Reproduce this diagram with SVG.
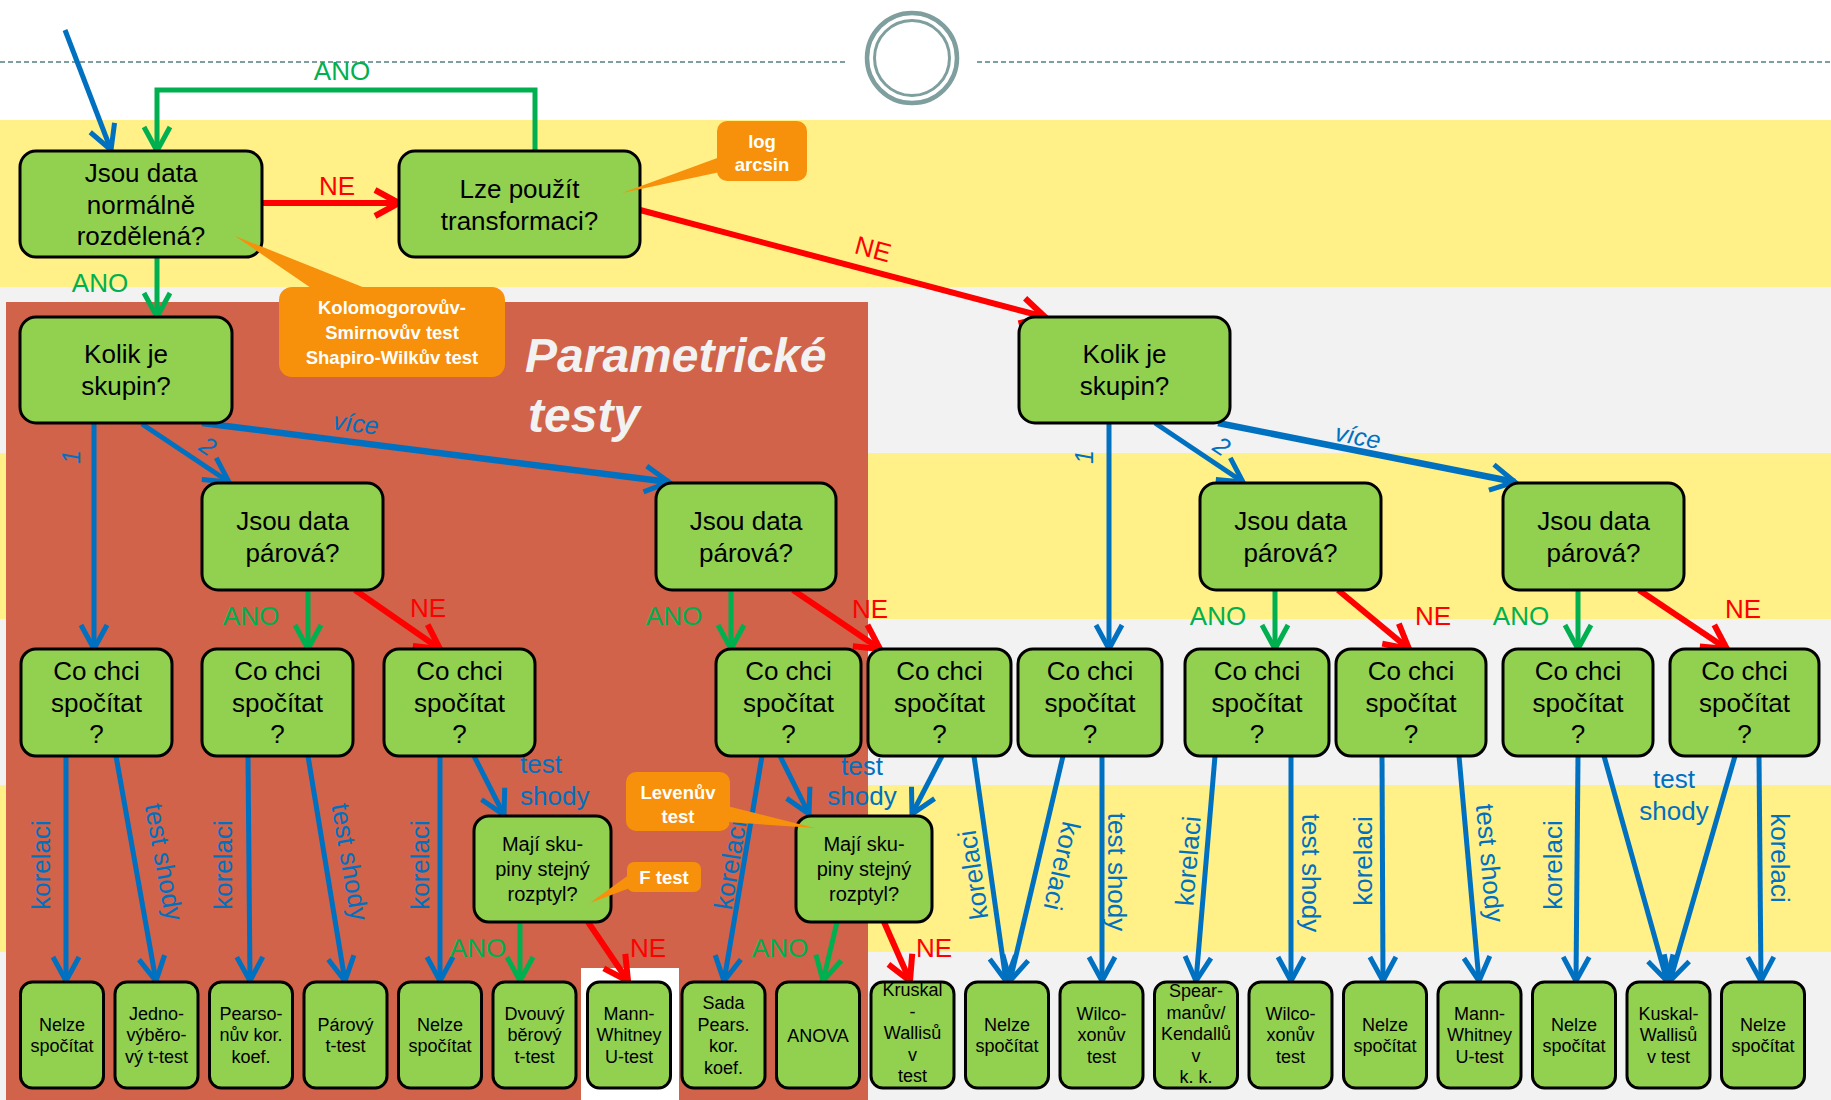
<svg xmlns="http://www.w3.org/2000/svg" width="1831" height="1100" viewBox="0 0 1831 1100">
<style>
text{font-family:"Liberation Sans",Arial,sans-serif}
.nd rect{fill:#92d050;stroke:#000;stroke-width:3}
.t26{font-size:26px;text-anchor:middle;fill:#000}
.t20{font-size:20px;text-anchor:middle;fill:#000}
.t18{font-size:18px;text-anchor:middle;fill:#000}
.cb{stroke:#0070c0;stroke-width:5;fill:none;marker-end:url(#ab)}
.cbt{stroke:#0070c0;stroke-width:6.5;fill:none;marker-end:url(#ab)}
.cg{stroke:#00b050;stroke-width:5;fill:none;marker-end:url(#ag)}
.cr{stroke:#ff0000;stroke-width:6;fill:none;marker-end:url(#ar)}
.lb{font-size:26px;fill:#0070c0;text-anchor:middle}
.lbi{font-size:25px;fill:#0070c0;text-anchor:middle;font-style:italic}
.lg{font-size:26px;fill:#00b050;text-anchor:middle}
.lr{font-size:26px;fill:#ff0000;text-anchor:middle}
.co{fill:#f7900a}
.ct{font-size:18.5px;font-weight:bold;fill:#fff;text-anchor:middle}
</style>
<defs>
<marker id="ab" viewBox="-30 -18 42 36" markerWidth="42" markerHeight="36" refX="0" refY="0" orient="auto" markerUnits="userSpaceOnUse"><path d="M-24,-13 L0,0 L-24,13" fill="none" stroke="#0070c0" stroke-width="5"/></marker>
<marker id="ag" viewBox="-30 -18 42 36" markerWidth="42" markerHeight="36" refX="0" refY="0" orient="auto" markerUnits="userSpaceOnUse"><path d="M-24,-13 L0,0 L-24,13" fill="none" stroke="#00b050" stroke-width="5"/></marker>
<marker id="ar" viewBox="-30 -18 42 36" markerWidth="42" markerHeight="36" refX="0" refY="0" orient="auto" markerUnits="userSpaceOnUse"><path d="M-24,-13 L0,0 L-24,13" fill="none" stroke="#ff0000" stroke-width="6"/></marker>
</defs>
<g id="background">
<rect x="0" y="0" width="1831" height="1100" fill="#ffffff"/>
<rect x="0" y="120" width="1831" height="167" fill="#fff087"/>
<rect x="0" y="287" width="1831" height="166" fill="#f2f2f2"/>
<rect x="0" y="453" width="1831" height="166" fill="#fff087"/>
<rect x="0" y="619" width="1831" height="166" fill="#f2f2f2"/>
<rect x="0" y="785" width="1831" height="167" fill="#fff087"/>
<rect x="0" y="952" width="1831" height="148" fill="#f2f2f2"/>
<line x1="0" y1="62" x2="848" y2="62" stroke="#7f9e9e" stroke-width="2" stroke-dasharray="5 3"/>
<line x1="977" y1="62" x2="1831" y2="62" stroke="#7f9e9e" stroke-width="2" stroke-dasharray="5 3"/>
<circle cx="912" cy="58" r="45" fill="none" stroke="#7f9e9e" stroke-width="4.5"/>
<circle cx="912" cy="58" r="37.5" fill="none" stroke="#7f9e9e" stroke-width="3"/>
<rect x="6" y="302" width="862" height="798" fill="#d06349"/>
<rect x="581" y="968" width="98" height="132" fill="#ffffff"/>
<text x="525" y="372" font-size="48" font-weight="bold" font-style="italic" fill="#f2f2f2">Parametrické</text>
<text x="528" y="432" font-size="48" font-weight="bold" font-style="italic" fill="#f2f2f2">testy</text>
</g>
<g id="connectors">
<line x1="65" y1="30" x2="111" y2="150" class="cb"/>
<path d="M535,151 V90 H157 V151" class="cg"/>
<line x1="262" y1="203" x2="399" y2="203" class="cr"/>
<line x1="640" y1="210" x2="1045" y2="317" class="cr"/>
<line x1="157" y1="257" x2="157" y2="317" class="cg"/>
<line x1="94" y1="423" x2="94" y2="649" class="cb"/>
<line x1="142" y1="424" x2="229" y2="482" class="cb"/>
<line x1="202" y1="423" x2="669" y2="482" class="cbt"/>
<line x1="1109" y1="423" x2="1109" y2="649" class="cb"/>
<line x1="1155" y1="423" x2="1243" y2="482" class="cb"/>
<line x1="1218" y1="423" x2="1515" y2="482" class="cbt"/>
<line x1="308" y1="590" x2="308" y2="649" class="cg"/>
<line x1="355" y1="590" x2="440" y2="649" class="cr"/>
<line x1="731" y1="590" x2="731" y2="649" class="cg"/>
<line x1="793" y1="590" x2="880" y2="649" class="cr"/>
<line x1="1275" y1="590" x2="1275" y2="649" class="cg"/>
<line x1="1338" y1="590" x2="1409" y2="649" class="cr"/>
<line x1="1578" y1="590" x2="1578" y2="649" class="cg"/>
<line x1="1639" y1="590" x2="1727" y2="649" class="cr"/>
<line x1="66" y1="756" x2="66" y2="981" class="cb"/>
<line x1="116" y1="756" x2="156" y2="981" class="cb"/>
<line x1="248" y1="756" x2="250" y2="981" class="cb"/>
<line x1="308" y1="756" x2="345" y2="981" class="cb"/>
<line x1="440" y1="756" x2="440" y2="981" class="cb"/>
<line x1="474" y1="756" x2="504" y2="815" class="cb"/>
<line x1="762" y1="756" x2="724" y2="981" class="cb"/>
<line x1="780" y1="756" x2="809" y2="814" class="cb"/>
<line x1="942" y1="756" x2="912" y2="814" class="cb"/>
<line x1="974" y1="756" x2="1006" y2="981" class="cb"/>
<line x1="1063" y1="756" x2="1010" y2="981" class="cb"/>
<line x1="1102" y1="756" x2="1102" y2="981" class="cb"/>
<line x1="1215" y1="756" x2="1196" y2="981" class="cb"/>
<line x1="1291" y1="756" x2="1291" y2="981" class="cb"/>
<line x1="1382" y1="756" x2="1383" y2="981" class="cb"/>
<line x1="1459" y1="756" x2="1479" y2="981" class="cb"/>
<line x1="1578" y1="756" x2="1576" y2="981" class="cb"/>
<line x1="1604" y1="756" x2="1667" y2="981" class="cb"/>
<line x1="1735" y1="756" x2="1670" y2="981" class="cb"/>
<line x1="1759" y1="756" x2="1761" y2="981" class="cb"/>
<line x1="520" y1="922" x2="520" y2="981" class="cg"/>
<line x1="588" y1="922" x2="628" y2="981" class="cr"/>
<line x1="837" y1="922" x2="823" y2="981" class="cg"/>
<line x1="884" y1="922" x2="910" y2="981" class="cr"/>
</g>
<g id="connector-labels">
<text x="342" y="80" class="lg">ANO</text>
<text x="337" y="195" class="lr">NE</text>
<text transform="translate(873,249) rotate(14.8)" y="9" class="lr">NE</text>
<text x="100" y="292" class="lg">ANO</text>
<text transform="translate(71,457) rotate(-90)" y="9" class="lbi">1</text>
<text transform="translate(208,446) rotate(34)" y="9" class="lbi">2</text>
<text transform="translate(356,423) rotate(7)" y="9" class="lbi">více</text>
<text transform="translate(1084,457) rotate(-90)" y="9" class="lbi">1</text>
<text transform="translate(1222,446) rotate(34)" y="9" class="lbi">2</text>
<text transform="translate(1358,436) rotate(11)" y="9" class="lbi">více</text>
<text x="251" y="625" class="lg">ANO</text>
<text x="428" y="617" class="lr">NE</text>
<text x="674" y="625" class="lg">ANO</text>
<text x="870" y="618" class="lr">NE</text>
<text x="1218" y="625" class="lg">ANO</text>
<text x="1433" y="625" class="lr">NE</text>
<text x="1521" y="625" class="lg">ANO</text>
<text x="1743" y="618" class="lr">NE</text>
<text transform="translate(41,865) rotate(-90)" y="9" class="lb">korelaci</text>
<text transform="translate(164,862) rotate(79.7)" y="9" class="lb">test shody</text>
<text transform="translate(223,865) rotate(-90)" y="9" class="lb">korelaci</text>
<text transform="translate(350,862) rotate(80.4)" y="9" class="lb">test shody</text>
<text transform="translate(420,865) rotate(-90)" y="9" class="lb">korelaci</text>
<text x="520" y="773" class="lb" text-anchor="start" style="text-anchor:start">test</text>
<text x="520" y="805" class="lb" style="text-anchor:start">shody</text>
<text transform="translate(730,865) rotate(-80.4)" y="9" class="lb">korelaci</text>
<text x="862" y="775" class="lb">test</text>
<text x="862" y="805" class="lb">shody</text>
<text transform="translate(973,875) rotate(-98.3)" y="9" class="lb">korelaci</text>
<text transform="translate(1062,866) rotate(102.5)" y="9" class="lb">korelaci</text>
<text transform="translate(1117,872) rotate(90)" y="9" class="lb">test shody</text>
<text transform="translate(1188,861) rotate(-85.2)" y="9" class="lb">korelaci</text>
<text transform="translate(1311,873) rotate(90)" y="9" class="lb">test shody</text>
<text transform="translate(1363,861) rotate(-90)" y="9" class="lb">korelaci</text>
<text transform="translate(1490,863) rotate(84.9)" y="9" class="lb">test shody</text>
<text transform="translate(1553,865) rotate(-90)" y="9" class="lb">korelaci</text>
<text x="1674" y="788" class="lb">test</text>
<text x="1674" y="820" class="lb">shody</text>
<text transform="translate(1780,858) rotate(90)" y="9" class="lb">korelaci</text>
<text x="478" y="957" class="lg">ANO</text>
<text x="648" y="957" class="lr">NE</text>
<text x="780" y="957" class="lg">ANO</text>
<text x="934" y="957" class="lr">NE</text>
</g>
<g id="n-normal" class="nd"><rect x="20" y="151" width="242" height="106" rx="16"/><text class="t26" x="141" y="182">Jsou data</text><text class="t26" x="141" y="213.5">normálně</text><text class="t26" x="141" y="245">rozdělená?</text></g>
<g id="n-transform" class="nd"><rect x="399" y="151" width="241" height="106" rx="16"/><text class="t26" x="519.5" y="198">Lze použít</text><text class="t26" x="519.5" y="229.5">transformaci?</text></g>
<g id="n-kolik-p" class="nd"><rect x="20" y="317" width="212" height="106" rx="16"/><text class="t26" x="126" y="363">Kolik je</text><text class="t26" x="126" y="394.5">skupin?</text></g>
<g id="n-kolik-np" class="nd"><rect x="1019" y="317" width="211" height="106" rx="16"/><text class="t26" x="1124.5" y="363">Kolik je</text><text class="t26" x="1124.5" y="394.5">skupin?</text></g>
<g id="n-par-p2" class="nd"><rect x="202" y="483" width="181" height="107" rx="16"/><text class="t26" x="292.5" y="530">Jsou data</text><text class="t26" x="292.5" y="561.5">párová?</text></g>
<g id="n-par-pv" class="nd"><rect x="656" y="483" width="180" height="107" rx="16"/><text class="t26" x="746" y="530">Jsou data</text><text class="t26" x="746" y="561.5">párová?</text></g>
<g id="n-par-np2" class="nd"><rect x="1200" y="483" width="181" height="107" rx="16"/><text class="t26" x="1290.5" y="530">Jsou data</text><text class="t26" x="1290.5" y="561.5">párová?</text></g>
<g id="n-par-npv" class="nd"><rect x="1503" y="483" width="181" height="107" rx="16"/><text class="t26" x="1593.5" y="530">Jsou data</text><text class="t26" x="1593.5" y="561.5">párová?</text></g>
<g id="n-co-a" class="nd"><rect x="21" y="649" width="151" height="107" rx="15"/><text class="t26" x="96.5" y="680">Co chci</text><text class="t26" x="96.5" y="711.5">spočítat</text><text class="t26" x="96.5" y="743">?</text></g>
<g id="n-co-b" class="nd"><rect x="202" y="649" width="151" height="107" rx="15"/><text class="t26" x="277.5" y="680">Co chci</text><text class="t26" x="277.5" y="711.5">spočítat</text><text class="t26" x="277.5" y="743">?</text></g>
<g id="n-co-c" class="nd"><rect x="384" y="649" width="151" height="107" rx="15"/><text class="t26" x="459.5" y="680">Co chci</text><text class="t26" x="459.5" y="711.5">spočítat</text><text class="t26" x="459.5" y="743">?</text></g>
<g id="n-co-d" class="nd"><rect x="716" y="649" width="145" height="107" rx="15"/><text class="t26" x="788.5" y="680">Co chci</text><text class="t26" x="788.5" y="711.5">spočítat</text><text class="t26" x="788.5" y="743">?</text></g>
<g id="n-co-e" class="nd"><rect x="868" y="649" width="143" height="107" rx="15"/><text class="t26" x="939.5" y="680">Co chci</text><text class="t26" x="939.5" y="711.5">spočítat</text><text class="t26" x="939.5" y="743">?</text></g>
<g id="n-co-f" class="nd"><rect x="1018" y="649" width="144" height="107" rx="15"/><text class="t26" x="1090" y="680">Co chci</text><text class="t26" x="1090" y="711.5">spočítat</text><text class="t26" x="1090" y="743">?</text></g>
<g id="n-co-g" class="nd"><rect x="1185" y="649" width="144" height="107" rx="15"/><text class="t26" x="1257" y="680">Co chci</text><text class="t26" x="1257" y="711.5">spočítat</text><text class="t26" x="1257" y="743">?</text></g>
<g id="n-co-h" class="nd"><rect x="1336" y="649" width="150" height="107" rx="15"/><text class="t26" x="1411" y="680">Co chci</text><text class="t26" x="1411" y="711.5">spočítat</text><text class="t26" x="1411" y="743">?</text></g>
<g id="n-co-i" class="nd"><rect x="1503" y="649" width="150" height="107" rx="15"/><text class="t26" x="1578" y="680">Co chci</text><text class="t26" x="1578" y="711.5">spočítat</text><text class="t26" x="1578" y="743">?</text></g>
<g id="n-co-j" class="nd"><rect x="1670" y="649" width="149" height="107" rx="15"/><text class="t26" x="1744.5" y="680">Co chci</text><text class="t26" x="1744.5" y="711.5">spočítat</text><text class="t26" x="1744.5" y="743">?</text></g>
<g id="n-maji-1" class="nd"><rect x="474" y="816" width="137" height="106" rx="15"/><text class="t20" x="542.5" y="851">Mají sku-</text><text class="t20" x="542.5" y="876">piny stejný</text><text class="t20" x="542.5" y="901">rozptyl?</text></g>
<g id="n-maji-2" class="nd"><rect x="796" y="816" width="136" height="106" rx="15"/><text class="t20" x="864" y="851">Mají sku-</text><text class="t20" x="864" y="876">piny stejný</text><text class="t20" x="864" y="901">rozptyl?</text></g>
<g id="leaf-01" class="nd"><rect x="20.5" y="982" width="83" height="106" rx="12"/><text class="t18" x="62" y="1030.5">Nelze</text><text class="t18" x="62" y="1052">spočítat</text></g>
<g id="leaf-02" class="nd"><rect x="115" y="982" width="83" height="106" rx="12"/><text class="t18" x="156.5" y="1019.5">Jedno-</text><text class="t18" x="156.5" y="1041">výběro-</text><text class="t18" x="156.5" y="1062.5">vý t-test</text></g>
<g id="leaf-03" class="nd"><rect x="209.5" y="982" width="83" height="106" rx="12"/><text class="t18" x="251" y="1019.5">Pearso-</text><text class="t18" x="251" y="1041">nův kor.</text><text class="t18" x="251" y="1062.5">koef.</text></g>
<g id="leaf-04" class="nd"><rect x="304" y="982" width="83" height="106" rx="12"/><text class="t18" x="345.5" y="1030.5">Párový</text><text class="t18" x="345.5" y="1052">t-test</text></g>
<g id="leaf-05" class="nd"><rect x="398.5" y="982" width="83" height="106" rx="12"/><text class="t18" x="440" y="1030.5">Nelze</text><text class="t18" x="440" y="1052">spočítat</text></g>
<g id="leaf-06" class="nd"><rect x="493" y="982" width="83" height="106" rx="12"/><text class="t18" x="534.5" y="1019.5">Dvouvý</text><text class="t18" x="534.5" y="1041">běrový</text><text class="t18" x="534.5" y="1062.5">t-test</text></g>
<g id="leaf-07" class="nd"><rect x="587.5" y="982" width="83" height="106" rx="12"/><text class="t18" x="629" y="1019.5">Mann-</text><text class="t18" x="629" y="1041">Whitney</text><text class="t18" x="629" y="1062.5">U-test</text></g>
<g id="leaf-08" class="nd"><rect x="682" y="982" width="83" height="106" rx="12"/><text class="t18" x="723.5" y="1009">Sada</text><text class="t18" x="723.5" y="1030.5">Pears.</text><text class="t18" x="723.5" y="1052">kor.</text><text class="t18" x="723.5" y="1073.5">koef.</text></g>
<g id="leaf-09" class="nd"><rect x="776.5" y="982" width="83" height="106" rx="12"/><text class="t18" x="818" y="1041.5">ANOVA</text></g>
<g id="leaf-10" class="nd"><rect x="871" y="982" width="83" height="106" rx="12"/><text class="t18" x="912.5" y="996">Kruskal</text><text class="t18" x="912.5" y="1017.5">-</text><text class="t18" x="912.5" y="1039">Wallisů</text><text class="t18" x="912.5" y="1060.5">v</text><text class="t18" x="912.5" y="1082">test</text></g>
<g id="leaf-11" class="nd"><rect x="965.5" y="982" width="83" height="106" rx="12"/><text class="t18" x="1007" y="1030.5">Nelze</text><text class="t18" x="1007" y="1052">spočítat</text></g>
<g id="leaf-12" class="nd"><rect x="1060" y="982" width="83" height="106" rx="12"/><text class="t18" x="1101.5" y="1019.5">Wilco-</text><text class="t18" x="1101.5" y="1041">xonův</text><text class="t18" x="1101.5" y="1062.5">test</text></g>
<g id="leaf-13" class="nd"><rect x="1154.5" y="982" width="83" height="106" rx="12"/><text class="t18" x="1196" y="997">Spear-</text><text class="t18" x="1196" y="1018.5">manův/</text><text class="t18" x="1196" y="1040">Kendallů</text><text class="t18" x="1196" y="1061.5">v</text><text class="t18" x="1196" y="1083">k. k.</text></g>
<g id="leaf-14" class="nd"><rect x="1249" y="982" width="83" height="106" rx="12"/><text class="t18" x="1290.5" y="1019.5">Wilco-</text><text class="t18" x="1290.5" y="1041">xonův</text><text class="t18" x="1290.5" y="1062.5">test</text></g>
<g id="leaf-15" class="nd"><rect x="1343.5" y="982" width="83" height="106" rx="12"/><text class="t18" x="1385" y="1030.5">Nelze</text><text class="t18" x="1385" y="1052">spočítat</text></g>
<g id="leaf-16" class="nd"><rect x="1438" y="982" width="83" height="106" rx="12"/><text class="t18" x="1479.5" y="1019.5">Mann-</text><text class="t18" x="1479.5" y="1041">Whitney</text><text class="t18" x="1479.5" y="1062.5">U-test</text></g>
<g id="leaf-17" class="nd"><rect x="1532.5" y="982" width="83" height="106" rx="12"/><text class="t18" x="1574" y="1030.5">Nelze</text><text class="t18" x="1574" y="1052">spočítat</text></g>
<g id="leaf-18" class="nd"><rect x="1627" y="982" width="83" height="106" rx="12"/><text class="t18" x="1668.5" y="1019.5">Kuskal-</text><text class="t18" x="1668.5" y="1041">Wallisů</text><text class="t18" x="1668.5" y="1062.5">v test</text></g>
<g id="leaf-19" class="nd"><rect x="1721.5" y="982" width="83" height="106" rx="12"/><text class="t18" x="1763" y="1030.5">Nelze</text><text class="t18" x="1763" y="1052">spočítat</text></g>
<g id="callout-transform">
<rect class="co" x="717" y="121" width="90" height="60" rx="10"/><polygon class="co" points="720,157 720,172 622,193"/>
<text class="ct" x="762" y="148">log</text><text class="ct" x="762" y="171">arcsin</text>
</g>
<g id="callout-normality">
<rect class="co" x="279" y="287" width="226" height="90" rx="13"/><polygon class="co" points="314,290 370,290 235,236"/>
<text class="ct" x="392" y="314">Kolomogorovův-</text><text class="ct" x="392" y="339">Smirnovův test</text><text class="ct" x="392" y="364">Shapiro-Wilkův test</text>
</g>
<g id="callout-levene">
<rect class="co" x="626" y="772" width="104" height="59" rx="10"/><polygon class="co" points="727,806 727,822 815,828"/>
<text class="ct" x="678" y="799">Levenův</text><text class="ct" x="678" y="823">test</text>
</g>
<g id="callout-ftest">
<rect class="co" x="627" y="862" width="74" height="30" rx="7"/><polygon class="co" points="630,874 630,888 590,903"/>
<text class="ct" x="664" y="884">F test</text>
</g>
</svg>
